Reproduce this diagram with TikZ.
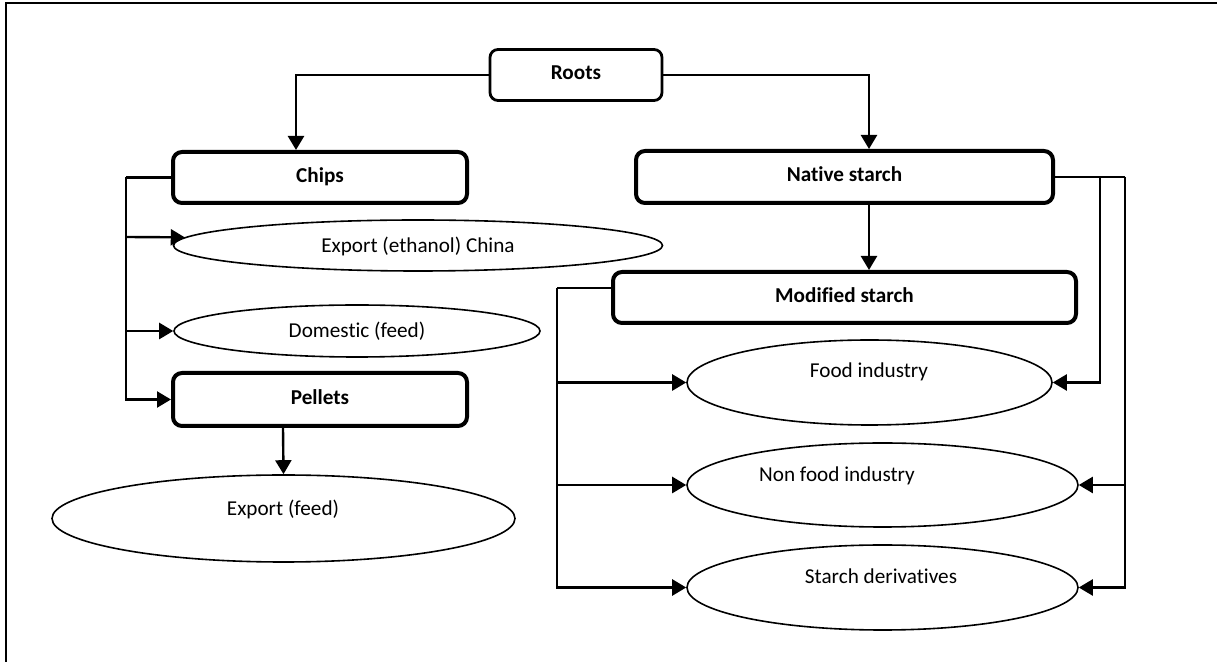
\documentclass[tikz,border=0pt]{standalone}
\usepackage{fontspec}
\setmainfont{Carlito}[Ligatures=NoCommon]
\usetikzlibrary{arrows.meta,shapes.geometric}
\begin{document}
\begin{tikzpicture}[x=0.5pt,y=-0.5pt,
  every node/.style={font=\fontsize{10.6}{12}\selectfont, text height=0.7em, text depth=0.2em},
  thinbox/.style={draw, line width=1.4pt, rounded corners=4pt, inner sep=0pt, font=\fontsize{10.6}{12}\selectfont\bfseries},
  thickbox/.style={draw, line width=2pt, rounded corners=4.5pt, inner sep=0pt, font=\fontsize{10.6}{12}\selectfont\bfseries},
  ell/.style={draw, ellipse, line width=0.8pt, inner sep=0pt},
  lbl/.style={inner sep=0pt},
  conn/.style={line width=1.2pt},
  arr/.style={line width=1.2pt, -{Triangle[length=7pt,width=8pt]}},
  frame/.style={line width=1.1pt}
]
\useasboundingbox (0,0) rectangle (1217,662);
\draw[frame] (6,670) -- (6,3) -- (1225,3);

% boxes
\node[thinbox, minimum width=86pt, minimum height=25.5pt] (roots) at (576,75) {Roots};
\node[thickbox, minimum width=147pt, minimum height=25.5pt] (chips) at (320,177.5) {Chips};
\node[thickbox, minimum width=208.5pt, minimum height=26pt] (native) at (844.5,177) {Native starch};
\node[thickbox, minimum width=231.5pt, minimum height=25.5pt] (modified) at (844.5,297.5) {Modified starch};
\node[thickbox, minimum width=147pt, minimum height=26.5pt] (pellets) at (320,399.5) {Pellets};

% ellipses
\node[ell, minimum width=244.5pt, minimum height=25.5pt] (ethanol) at (418,245.5) {};
\node[lbl] (ethanoltxt) at (418,248) {Export (ethanol) China};
\node[ell, minimum width=183pt, minimum height=26pt] (domestic) at (357,331) {};
\node[lbl] (domestictxt) at (357,333) {Domestic (feed)};
\node[ell, minimum width=231.5pt, minimum height=43.5pt] (exportfeed) at (283.5,518.5) {};
\node[lbl] (exportfeedtxt) at (283,511) {Export (feed)};
\node[ell, minimum width=182.5pt, minimum height=42.5pt] (food) at (869.5,382.5) {};
\node[lbl] (foodtxt) at (869,373) {Food industry};
\node[ell, minimum width=195.5pt, minimum height=42pt] (nonfood) at (882.5,485) {};
\node[lbl] (nonfoodtxt) at (837,477) {Non food industry};
\node[ell, minimum width=195.5pt, minimum height=42.5pt] (deriv) at (882.5,587.5) {};
\node[lbl] (derivtxt) at (881,579) {Starch derivatives};

% roots connectors
\draw[arr] (roots.west) -| ([xshift=-12pt]chips.north);
\draw[arr] (roots.east) -| ([xshift=12.25pt]native.north);
\draw[arr] ([xshift=12.25pt]native.south) -- ([xshift=12.25pt]modified.north);

% chips branch
\coordinate (cl) at (126,177.5);
\coordinate (cl1) at (126,237);
\draw[conn] (chips.west) -- (cl);
\draw[arr] (cl) |- (pellets.west);
\draw[arr] (cl1) -- (ethanol.178);
\draw[arr] (cl) |- (domestic.west);
\draw[arr] ([xshift=-18.5pt]pellets.south) -- (exportfeed.north);

% modified starch branch
\coordinate (ml) at (557,288);
\draw[conn] ([yshift=4.75pt]modified.west) -- (ml);
\draw[arr] (ml) |- (food.west);
\draw[arr] (ml) |- (nonfood.west);
\draw[arr] (ml) |- (deriv.west);

% native starch branch
\coordinate (nr) at (1125,177);
\coordinate (nri) at (1100,177);
\draw[conn] (native.east) -- (nr);
\draw[arr] (nri) |- (food.east);
\draw[arr] (nr) |- (nonfood.east);
\draw[arr] (nr) |- (deriv.east);
\end{tikzpicture}
\end{document}
